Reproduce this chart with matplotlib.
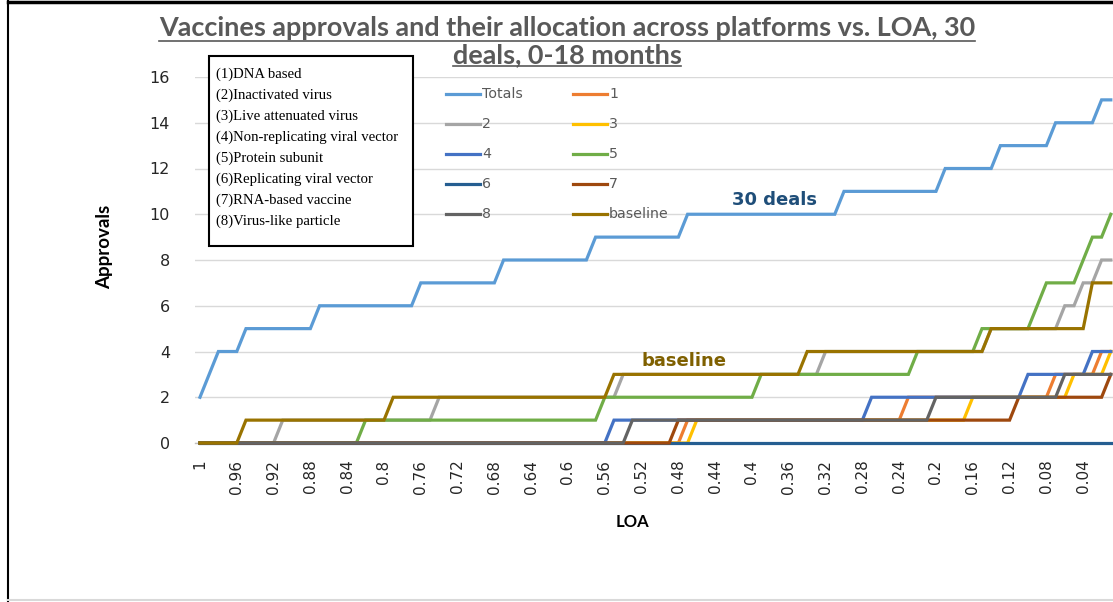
import numpy as np
import matplotlib
matplotlib.use("Agg")
import matplotlib.pyplot as plt
from matplotlib.lines import Line2D
from matplotlib.patches import Rectangle

# ---------------- data ----------------
loa = np.round(np.arange(100, 0, -1) / 100.0, 2)   # 1.00 ... 0.01 (categories)

totals = [2, 3, 4, 4, 4, 5, 5, 5, 5, 5,
          5, 5, 5, 6, 6, 6, 6, 6, 6, 6,
          6, 6, 6, 6, 7, 7, 7, 7, 7, 7,
          7, 7, 7, 8, 8, 8, 8, 8, 8, 8,
          8, 8, 8, 9, 9, 9, 9, 9, 9, 9,
          9, 9, 9, 10, 10, 10, 10, 10, 10, 10,
          10, 10, 10, 10, 10, 10, 10, 10, 10, 10,
          11, 11, 11, 11, 11, 11, 11, 11, 11, 11,
          11, 12, 12, 12, 12, 12, 12, 13, 13, 13,
          13, 13, 13, 14, 14, 14, 14, 14, 15, 15]

s1 = [0, 0, 0, 0, 0, 0, 0, 0, 0, 0,
      0, 0, 0, 0, 0, 0, 0, 0, 0, 0,
      0, 0, 0, 0, 0, 0, 0, 0, 0, 0,
      0, 0, 0, 0, 0, 0, 0, 0, 0, 0,
      0, 0, 0, 0, 0, 0, 0, 0, 0, 0,
      0, 0, 0, 1, 1, 1, 1, 1, 1, 1,
      1, 1, 1, 1, 1, 1, 1, 1, 1, 1,
      1, 1, 1, 1, 1, 1, 1, 2, 2, 2,
      2, 2, 2, 2, 2, 2, 2, 2, 2, 2,
      2, 2, 2, 3, 3, 3, 3, 3, 4, 4]

s2 = [0, 0, 0, 0, 0, 0, 0, 0, 0, 1,
      1, 1, 1, 1, 1, 1, 1, 1, 1, 1,
      1, 1, 1, 1, 1, 1, 2, 2, 2, 2,
      2, 2, 2, 2, 2, 2, 2, 2, 2, 2,
      2, 2, 2, 2, 2, 2, 3, 3, 3, 3,
      3, 3, 3, 3, 3, 3, 3, 3, 3, 3,
      3, 3, 3, 3, 3, 3, 3, 3, 4, 4,
      4, 4, 4, 4, 4, 4, 4, 4, 4, 4,
      4, 4, 4, 4, 4, 4, 5, 5, 5, 5,
      5, 5, 5, 5, 6, 6, 7, 7, 8, 8]

s3 = [0, 0, 0, 0, 0, 0, 0, 0, 0, 0,
      0, 0, 0, 0, 0, 0, 0, 0, 0, 0,
      0, 0, 0, 0, 0, 0, 0, 0, 0, 0,
      0, 0, 0, 0, 0, 0, 0, 0, 0, 0,
      0, 0, 0, 0, 0, 0, 0, 0, 0, 0,
      0, 0, 0, 0, 1, 1, 1, 1, 1, 1,
      1, 1, 1, 1, 1, 1, 1, 1, 1, 1,
      1, 1, 1, 1, 1, 1, 1, 1, 1, 1,
      1, 1, 1, 1, 2, 2, 2, 2, 2, 2,
      2, 2, 2, 2, 2, 3, 3, 3, 3, 4]

s4 = [0, 0, 0, 0, 0, 0, 0, 0, 0, 0,
      0, 0, 0, 0, 0, 0, 0, 0, 0, 0,
      0, 0, 0, 0, 0, 0, 0, 0, 0, 0,
      0, 0, 0, 0, 0, 0, 0, 0, 0, 0,
      0, 0, 0, 0, 0, 1, 1, 1, 1, 1,
      1, 1, 1, 1, 1, 1, 1, 1, 1, 1,
      1, 1, 1, 1, 1, 1, 1, 1, 1, 1,
      1, 1, 1, 2, 2, 2, 2, 2, 2, 2,
      2, 2, 2, 2, 2, 2, 2, 2, 2, 2,
      3, 3, 3, 3, 3, 3, 3, 4, 4, 4]

s5 = [0, 0, 0, 0, 0, 0, 0, 0, 0, 0,
      0, 0, 0, 0, 0, 0, 0, 0, 1, 1,
      1, 1, 1, 1, 1, 1, 1, 1, 1, 1,
      1, 1, 1, 1, 1, 1, 1, 1, 1, 1,
      1, 1, 1, 1, 2, 2, 2, 2, 2, 2,
      2, 2, 2, 2, 2, 2, 2, 2, 2, 2,
      2, 3, 3, 3, 3, 3, 3, 3, 3, 3,
      3, 3, 3, 3, 3, 3, 3, 3, 4, 4,
      4, 4, 4, 4, 4, 5, 5, 5, 5, 5,
      5, 6, 7, 7, 7, 7, 8, 9, 9, 10]

s6 = [0] * 100

s7 = [0, 0, 0, 0, 0, 0, 0, 0, 0, 0,
      0, 0, 0, 0, 0, 0, 0, 0, 0, 0,
      0, 0, 0, 0, 0, 0, 0, 0, 0, 0,
      0, 0, 0, 0, 0, 0, 0, 0, 0, 0,
      0, 0, 0, 0, 0, 0, 0, 0, 0, 0,
      0, 0, 1, 1, 1, 1, 1, 1, 1, 1,
      1, 1, 1, 1, 1, 1, 1, 1, 1, 1,
      1, 1, 1, 1, 1, 1, 1, 1, 1, 1,
      1, 1, 1, 1, 1, 1, 1, 1, 1, 2,
      2, 2, 2, 2, 2, 2, 2, 2, 2, 3]

s8 = [0, 0, 0, 0, 0, 0, 0, 0, 0, 0,
      0, 0, 0, 0, 0, 0, 0, 0, 0, 0,
      0, 0, 0, 0, 0, 0, 0, 0, 0, 0,
      0, 0, 0, 0, 0, 0, 0, 0, 0, 0,
      0, 0, 0, 0, 0, 0, 0, 1, 1, 1,
      1, 1, 1, 1, 1, 1, 1, 1, 1, 1,
      1, 1, 1, 1, 1, 1, 1, 1, 1, 1,
      1, 1, 1, 1, 1, 1, 1, 1, 1, 1,
      2, 2, 2, 2, 2, 2, 2, 2, 2, 2,
      2, 2, 2, 2, 3, 3, 3, 3, 3, 3]

baseline = [0, 0, 0, 0, 0, 1, 1, 1, 1, 1,
            1, 1, 1, 1, 1, 1, 1, 1, 1, 1,
            1, 2, 2, 2, 2, 2, 2, 2, 2, 2,
            2, 2, 2, 2, 2, 2, 2, 2, 2, 2,
            2, 2, 2, 2, 2, 3, 3, 3, 3, 3,
            3, 3, 3, 3, 3, 3, 3, 3, 3, 3,
            3, 3, 3, 3, 3, 3, 4, 4, 4, 4,
            4, 4, 4, 4, 4, 4, 4, 4, 4, 4,
            4, 4, 4, 4, 4, 4, 5, 5, 5, 5,
            5, 5, 5, 5, 5, 5, 5, 7, 7, 7]

series_names = ["Totals", "1", "2", "3", "4", "5", "6", "7", "8", "baseline"]
series_values = [totals, s1, s2, s3, s4, s5, s6, s7, s8, baseline]
series_colors = ["#5B9BD5", "#ED7D31", "#A5A5A5", "#FFC000", "#4472C4",
                 "#70AD47", "#255E91", "#9E480E", "#636363", "#997300"]

platform_labels = ["(1)DNA based", "(2)Inactivated virus", "(3)Live attenuated virus",
                   "(4)Non-replicating viral vector", "(5)Protein subunit",
                   "(6)Replicating viral vector", "(7)RNA-based vaccine",
                   "(8)Virus-like particle"]

title_lines = ["Vaccines approvals and their allocation across platforms vs. LOA, 30",
               "deals, 0-18 months"]

# ---------------- figure ----------------
W, H = 1113, 602
fig = plt.figure(figsize=(W / 100, H / 100), dpi=100)
fig.patch.set_facecolor("white")

def fx(px):
    return px / W

def fy(py):
    return 1 - py / H

ax_left, ax_right, ax_top, ax_bot = 195, 1113, 77, 443
ax = fig.add_axes([fx(ax_left), fy(ax_bot), fx(ax_right - ax_left), (ax_bot - ax_top) / H])

x = np.arange(len(loa))
for k, (name, vals, col) in enumerate(zip(series_names, series_values, series_colors)):
    ax.plot(x, vals, color=col, lw=2.3, solid_joinstyle="miter", zorder=3 + k,
            clip_on=False, label=name)

ax.set_xlim(-0.54, 99.24)
ax.set_ylim(0, 16)
ax.set_yticks(np.arange(0, 17, 2))
ax.set_yticklabels([str(v) for v in range(0, 17, 2)], fontsize=11.5, family="DejaVu Sans")
tick_idx = np.arange(0, 100, 4)
ax.set_xticks(tick_idx)
ax.set_xticklabels(["%g" % loa[i] for i in tick_idx], rotation=90, fontsize=11,
                   family="DejaVu Sans", color="#262626")
ax.tick_params(axis="both", length=0)
ax.tick_params(axis="y", pad=18, colors="#262626")
ax.tick_params(axis="x", pad=12)
ax.grid(axis="y", color="#D9D9D9", lw=1.0, zorder=0)
ax.set_axisbelow(True)
for sp in ["top", "right", "left"]:
    ax.spines[sp].set_visible(False)
ax.spines["bottom"].set_color("#BFBFBF")
ax.spines["bottom"].set_linewidth(1.0)

# annotations
ax.text(62.5, 10.62, "30 deals", color="#1F4E79", fontsize=13, fontweight="bold",
        family="DejaVu Sans", ha="center", va="center", zorder=20)
ax.text(52.6, 3.6, "baseline", color="#7F6000", fontsize=13, fontweight="bold",
        family="DejaVu Sans", ha="center", va="center", zorder=20)

# Excel-style legend (two columns)
leg_rows = [94, 124, 154, 184, 214]
for k, (name, col) in enumerate(zip(series_names, series_colors)):
    r, c = divmod(k, 2)
    y = leg_rows[r]
    x0 = 446 if c == 0 else 573
    fig.add_artist(Line2D([fx(x0), fx(x0 + 34)], [fy(y), fy(y)], color=col, lw=2.3,
                          transform=fig.transFigure, zorder=30))
    fig.text(fx(x0 + 36), fy(y), name, fontsize=10.2, color="#595959", family="DejaVu Sans",
             ha="left", va="center", zorder=30)

# platform box
box = Rectangle((fx(208.5), fy(246.5)), fx(413 - 208.5), (246.5 - 56) / H,
                transform=fig.transFigure, facecolor="white", edgecolor="black", lw=1.5,
                zorder=40)
fig.add_artist(box)
for k, lab in enumerate(platform_labels):
    fig.text(fx(216), fy(74 + 21 * k), lab, fontsize=10.6, family="Liberation Serif",
             color="black", ha="left", va="center", zorder=41)

# axis labels
fig.text(fx(105), fy(247), "Approvals", rotation=90, fontsize=13.5, fontweight="bold",
         family=["Lato", "DejaVu Sans"], ha="center", va="center")
fig.text(fx(632), fy(522), "LOA", fontsize=12, fontweight="bold",
         family=["Lato", "DejaVu Sans"], ha="center", va="center")

# title with underline
renderer = fig.canvas.get_renderer()
t1 = fig.text(fx(567), fy(28.5), title_lines[0], fontsize=16, fontweight="bold",
              family=["Lato", "DejaVu Sans"], color="#595959", ha="center", va="center")
bb = t1.get_window_extent(renderer)
scale = 820.0 / bb.width
t1.set_fontsize(16 * scale)
t2 = fig.text(fx(567), fy(55), title_lines[1], fontsize=16 * scale, fontweight="bold",
              family=["Lato", "DejaVu Sans"], color="#595959", ha="center", va="center")
for t, uy in [(t1, 41), (t2, 66)]:
    b = t.get_window_extent(renderer)
    fig.add_artist(Line2D([b.x0 / W, b.x1 / W], [fy(uy), fy(uy)], color="#595959", lw=1.2,
                          transform=fig.transFigure))

# chart-area border
fig.add_artist(Line2D([fx(8), fx(8)], [0, 1], color="black", lw=1.5, transform=fig.transFigure))
fig.add_artist(Line2D([fx(8), 1], [fy(1.5), fy(1.5)], color="black", lw=2.5, transform=fig.transFigure))
fig.add_artist(Line2D([fx(8), 1], [fy(600), fy(600)], color="#D9D9D9", lw=1.5, transform=fig.transFigure))

fig.savefig("out.png", dpi=100, facecolor="white")
